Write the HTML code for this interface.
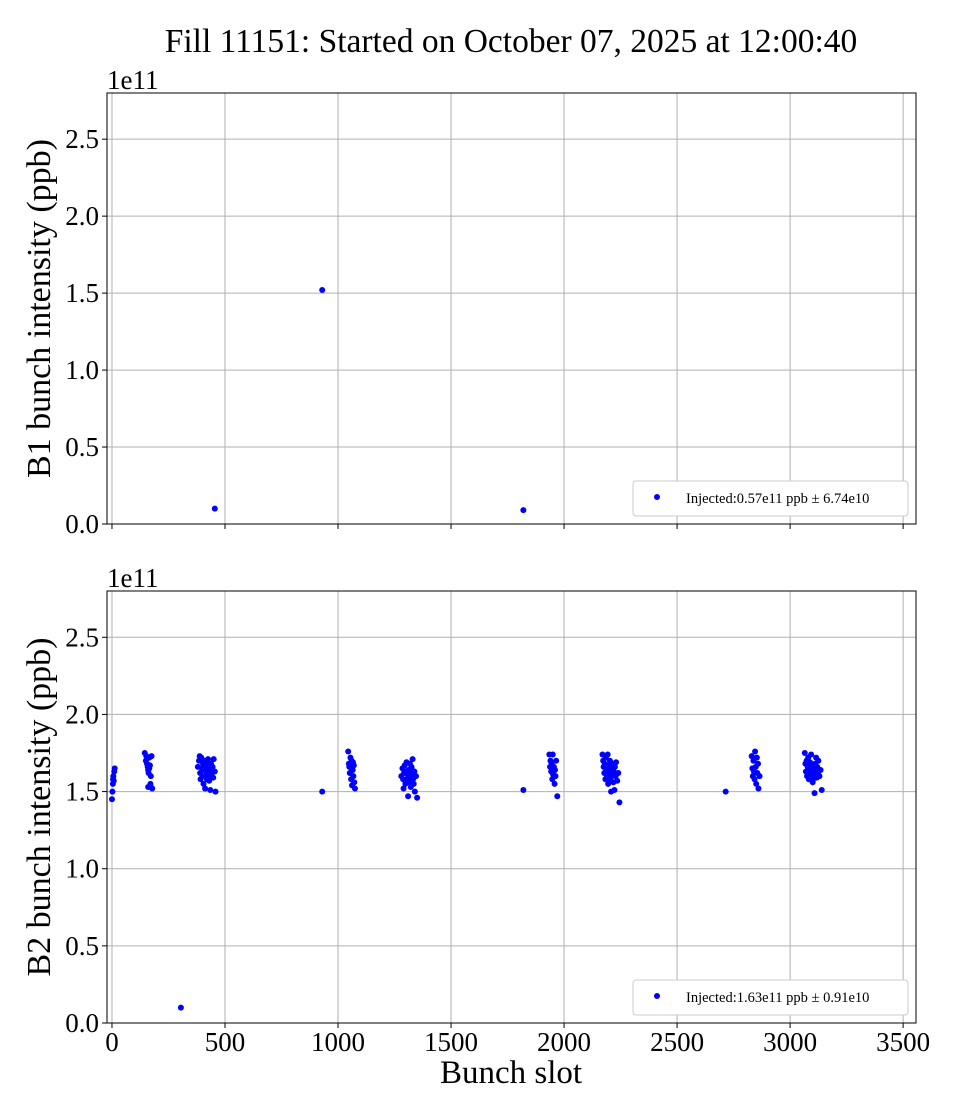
<!DOCTYPE html>
<html><head><meta charset="utf-8">
<style>
body{margin:0;background:#fff;}
svg{display:block;font-family:"Liberation Serif",serif;}
</style></head>
<body>
<svg id="chart" width="960" height="1120" xmlns="http://www.w3.org/2000/svg">
<text x="511" y="52" font-size="33.5" text-anchor="middle">Fill 11151: Started on October 07, 2025 at 12:00:40</text>
</svg>
<script>
// ---- data ----
const xTicks=[0,500,1000,1500,2000,2500,3000,3500];
const yTicks=[0,0.5,1.0,1.5,2.0,2.5];
const b1Slots=[455,930,1820];
const b1Vals=[0.10,1.52,0.09];
const c1Slots=[0,2,4,5,6,8,10,12];
const c1Vals=[1.45,1.50,1.55,1.58,1.60,1.57,1.63,1.65];
const c2Slots=[145,150,152,155,158,160,162,165,168,170,172,175,178,160,165,170];
const c2Vals=[1.75,1.70,1.73,1.68,1.66,1.64,1.62,1.72,1.67,1.55,1.60,1.73,1.52,1.53,1.65,1.54];
const c3Slots=[380,385,388,390,392,395,398,400,403,405,408,410,412,415,418,420,422,425,428,430,432,435,438,440,442,445,448,450,455,458];
const c3Vals=[1.66,1.70,1.73,1.62,1.58,1.72,1.65,1.60,1.68,1.55,1.64,1.70,1.52,1.66,1.61,1.58,1.69,1.71,1.63,1.57,1.65,1.51,1.68,1.60,1.62,1.66,1.59,1.71,1.63,1.50];
const singleSlots=[305,930,1820,2715];
const singleVals=[0.10,1.50,1.51,1.50];
const c4Slots=[1045,1048,1050,1052,1055,1058,1060,1062,1065,1068,1070,1072,1075,1060,1066];
const c4Vals=[1.76,1.68,1.66,1.62,1.72,1.58,1.70,1.54,1.64,1.60,1.67,1.56,1.52,1.65,1.69];
const c5Slots=[1280,1285,1288,1290,1292,1295,1298,1300,1303,1305,1308,1310,1312,1315,1318,1320,1322,1325,1328,1330,1332,1335,1338,1340,1345,1350,1310,1300,1325];
const c5Vals=[1.60,1.65,1.58,1.52,1.62,1.67,1.55,1.63,1.69,1.58,1.61,1.47,1.64,1.56,1.68,1.60,1.53,1.66,1.62,1.71,1.58,1.55,1.63,1.50,1.60,1.46,1.62,1.57,1.65];
const c6Slots=[1935,1938,1940,1943,1945,1948,1950,1952,1955,1958,1960,1962,1965,1970];
const c6Vals=[1.74,1.66,1.70,1.63,1.68,1.58,1.74,1.61,1.66,1.55,1.64,1.60,1.70,1.47];
const c7Slots=[2170,2173,2175,2178,2180,2183,2185,2188,2190,2193,2195,2198,2200,2203,2205,2208,2210,2213,2215,2218,2220,2223,2225,2228,2230,2235,2240,2245,2200,2210];
const c7Vals=[1.74,1.70,1.66,1.62,1.68,1.58,1.72,1.64,1.60,1.74,1.55,1.67,1.62,1.70,1.58,1.50,1.65,1.61,1.68,1.56,1.63,1.51,1.66,1.60,1.69,1.57,1.62,1.43,1.64,1.60];
const c8Slots=[2830,2833,2835,2838,2840,2843,2845,2848,2850,2853,2855,2858,2860,2865];
const c8Vals=[1.73,1.65,1.60,1.70,1.63,1.58,1.76,1.66,1.55,1.72,1.62,1.68,1.52,1.60];
const c9Slots=[3065,3068,3070,3073,3075,3078,3080,3083,3085,3088,3090,3093,3095,3098,3100,3103,3105,3108,3110,3113,3115,3118,3120,3123,3125,3130,3135,3140,3100];
const c9Vals=[1.75,1.68,1.63,1.70,1.60,1.66,1.72,1.58,1.64,1.69,1.61,1.74,1.62,1.67,1.57,1.65,1.60,1.49,1.68,1.63,1.72,1.59,1.66,1.62,1.70,1.60,1.64,1.51,1.56];
const b2Slots=[].concat(c1Slots,c2Slots,c3Slots,singleSlots,c4Slots,c5Slots,c6Slots,c7Slots,c8Slots,c9Slots);
const b2Vals=[].concat(c1Vals,c2Vals,c3Vals,singleVals,c4Vals,c5Vals,c6Vals,c7Vals,c8Vals,c9Vals);
// ---- layout ----
const svg=document.getElementById('chart');
const NS='http://www.w3.org/2000/svg';
const L=107,R=916,XMIN=-22,XMAX=3557,YMAX=2.8;
function sx(v){return L+(v-XMIN)/(XMAX-XMIN)*(R-L);}
function mk(tag,attrs,parent){const e=document.createElementNS(NS,tag);for(const k in attrs)e.setAttribute(k,attrs[k]);(parent||svg).appendChild(e);return e;}
function panel(top,bot,slots,vals,ylabel,legendText,showX,pname){
  const g=mk('g',{});
  
  
  const sy=v=>bot-v/YMAX*(bot-top);
  xTicks.forEach(t=>{
    const x=sx(t);
    const l=mk('line',{x1:x,x2:x,y1:top,y2:bot,stroke:'#b0b0b0','stroke-width':1},g);
    
    
    mk('line',{x1:x,x2:x,y1:bot,y2:bot+5,stroke:'#000','stroke-width':1},g);
    if(showX){
      const tx=mk('text',{x:x,y:bot+28,'font-size':27,'text-anchor':'middle'},g);
      tx.textContent=t;
      
      
    }
  });
  yTicks.forEach(t=>{
    const y=sy(t);
    const l=mk('line',{x1:L,x2:R,y1:y,y2:y,stroke:'#b0b0b0','stroke-width':1},g);
    
    
    mk('line',{x1:L-5,x2:L,y1:y,y2:y,stroke:'#000','stroke-width':1},g);
    const tx=mk('text',{x:L-8,y:y+9,'font-size':27,'text-anchor':'end'},g);
    tx.textContent=t.toFixed(1);
    
    
  });
  const ex=mk('text',{x:L,y:top-4,'font-size':27},g);
  ex.textContent='1e11';
  
  
  const yl=mk('text',{x:0,y:0,'font-size':34,'text-anchor':'middle',transform:`translate(50,${(top+bot)/2}) rotate(-90)`},g);
  yl.textContent=ylabel;
  
  
  slots.forEach((s,i)=>{
    const c=mk('circle',{cx:sx(s),cy:sy(vals[i]),r:3,fill:'#0000ff'},g);
    
    
  });
  const fr=mk('rect',{x:L,y:top,width:R-L,height:bot-top,fill:'none',stroke:'#000','stroke-width':1},g);
  
  
  const lg=mk('g',{},g);
  
  
  mk('rect',{x:633,y:bot-43,width:275,height:35,rx:3,fill:'#fff',stroke:'#ccc'},lg);
  mk('circle',{cx:657,cy:bot-27,r:3,fill:'#0000ff'},lg);
  const lt=mk('text',{x:686,y:bot-21,'font-size':14.5},lg);
  lt.textContent=legendText;
  
  
}
panel(93,524,b1Slots,b1Vals,'B1 bunch intensity (ppb)','Injected:0.57e11 ppb \u00b1 6.74e10',false,'b1-panel');
panel(591,1023,b2Slots,b2Vals,'B2 bunch intensity (ppb)','Injected:1.63e11 ppb \u00b1 0.91e10',true,'b2-panel');
const xl=mk('text',{x:511,y:1083,'font-size':33,'text-anchor':'middle'});
xl.textContent='Bunch slot';


</script>
</body></html>
